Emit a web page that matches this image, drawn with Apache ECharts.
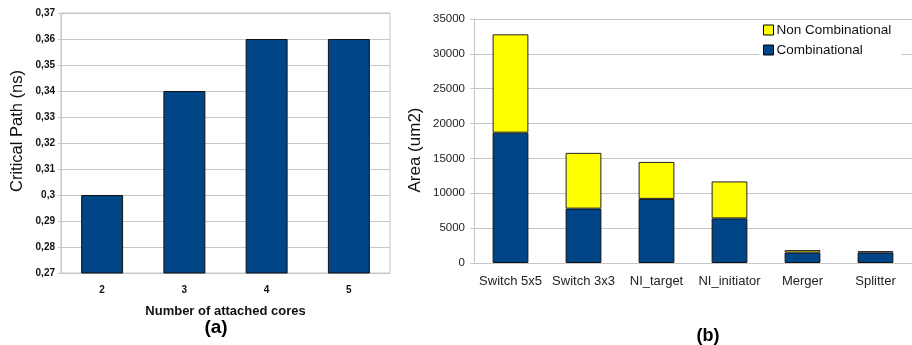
<!DOCTYPE html>
<html>
<head>
<meta charset="utf-8">
<script src="https://cdn.jsdelivr.net/npm/echarts@6/dist/echarts.min.js"></script>
<style>
  html, body { margin: 0; padding: 0; background: #fff; }
  #chart { width: 912px; height: 345px; }
</style>
</head>
<body>
<div id="chart"></div>
<script>
// (a) critical path vs. number of attached cores
const coreCounts = ['2', '3', '4', '5'];
const criticalPath = [0.30, 0.34, 0.36, 0.36];
const pathTicks = ['0,27', '0,28', '0,29', '0,3', '0,31', '0,32', '0,33', '0,34', '0,35', '0,36', '0,37'];

// (b) area breakdown per component
const components = ['Switch 5x5', 'Switch 3x3', 'NI_target', 'NI_initiator', 'Merger', 'Splitter'];
const combinational = [18700, 7800, 9200, 6400, 1500, 1500];
const nonCombinational = [14100, 8000, 5300, 5300, 350, 200];

const BLUE = '#004586';
const YELLOW = '#ffff00';
const GRID = '#c6c6c6';
const FONT = 'Liberation Sans, Arial, sans-serif';

const chart = echarts.init(document.getElementById('chart'));

chart.setOption({
  animation: false,
  textStyle: { fontFamily: FONT },
  grid: [
    { left: 61, right: 522, top: 13, bottom: 72, show: true, borderColor: GRID, borderWidth: 1 },
    { left: 474, right: -5, top: 19, bottom: 82 }
  ],
  legend: {
    data: ['Non Combinational', 'Combinational'],
    orient: 'vertical',
    left: 759,
    top: 21,
    itemWidth: 10,
    itemHeight: 10,
    itemGap: 6,
    padding: [2, 10, 1, 4],
    backgroundColor: '#ffffff',
    icon: 'rect',
    textStyle: { fontSize: 13.5, color: '#111', fontFamily: FONT, padding: [0, 0, 0, -2] },
    itemStyle: { borderColor: '#000', borderWidth: 1 }
  },
  xAxis: [
    {
      gridIndex: 0,
      type: 'category',
      data: coreCounts,
      axisLine: { lineStyle: { color: GRID } },
      axisTick: { length: 3, lineStyle: { color: GRID } },
      axisLabel: { fontSize: 10, fontWeight: 'bold', color: '#111', margin: 12 },
      name: 'Number of attached cores',
      nameLocation: 'middle',
      nameGap: 32,
      nameTextStyle: { fontSize: 13, fontWeight: 'bold', color: '#111' }
    },
    {
      gridIndex: 1,
      type: 'category',
      data: components,
      axisLine: { lineStyle: { color: GRID } },
      axisTick: { length: 4, lineStyle: { color: GRID } },
      axisLabel: { fontSize: 13, color: '#222', margin: 12, interval: 0 }
    }
  ],
  yAxis: [
    {
      gridIndex: 0,
      type: 'value',
      min: 0.27,
      max: 0.37,
      interval: 0.01,
      axisLine: { show: true, lineStyle: { color: GRID } },
      axisTick: { show: true, length: 3, lineStyle: { color: GRID } },
      splitLine: { lineStyle: { color: GRID } },
      axisLabel: {
        fontSize: 10,
        fontWeight: 'bold',
        color: '#111',
        margin: 6,
        formatter: v => pathTicks[Math.round((v - 0.27) / 0.01)]
      }
    },
    {
      gridIndex: 1,
      type: 'value',
      min: 0,
      max: 35000,
      interval: 5000,
      axisLine: { show: true, lineStyle: { color: GRID } },
      axisTick: { show: true, length: 4, lineStyle: { color: GRID } },
      splitLine: { lineStyle: { color: GRID } },
      axisLabel: { fontSize: 11.5, color: '#222', margin: 9, formatter: v => String(v) }
    }
  ],
  graphic: [
    {
      type: 'text', x: 17, y: 131, rotation: Math.PI / 2,
      style: { text: 'Critical Path (ns)', font: '16.5px ' + FONT, fill: '#111', textAlign: 'center', textVerticalAlign: 'middle' }
    },
    {
      type: 'text', x: 415, y: 150, rotation: Math.PI / 2,
      style: { text: 'Area (um2)', font: '17px ' + FONT, fill: '#111', textAlign: 'center', textVerticalAlign: 'middle' }
    },
    {
      type: 'text', x: 216, y: 328,
      style: { text: '(a)', font: 'bold 19px ' + FONT, fill: '#000', textAlign: 'center', textVerticalAlign: 'middle' }
    },
    {
      type: 'text', x: 708, y: 336,
      style: { text: '(b)', font: 'bold 18px ' + FONT, fill: '#000', textAlign: 'center', textVerticalAlign: 'middle' }
    }
  ],
  series: [
    {
      type: 'bar',
      xAxisIndex: 0,
      yAxisIndex: 0,
      data: criticalPath,
      barWidth: '51%',
      itemStyle: { color: BLUE, borderColor: '#111', borderWidth: 1 }
    },
    {
      name: 'Combinational',
      type: 'bar',
      stack: 'area',
      xAxisIndex: 1,
      yAxisIndex: 1,
      data: combinational,
      barWidth: '49%',
      itemStyle: { color: BLUE, borderColor: '#111', borderWidth: 1 }
    },
    {
      name: 'Non Combinational',
      type: 'bar',
      stack: 'area',
      xAxisIndex: 1,
      yAxisIndex: 1,
      data: nonCombinational,
      barWidth: '49%',
      itemStyle: { color: YELLOW, borderColor: '#222', borderWidth: 1 }
    }
  ]
});
</script>
</body>
</html>
